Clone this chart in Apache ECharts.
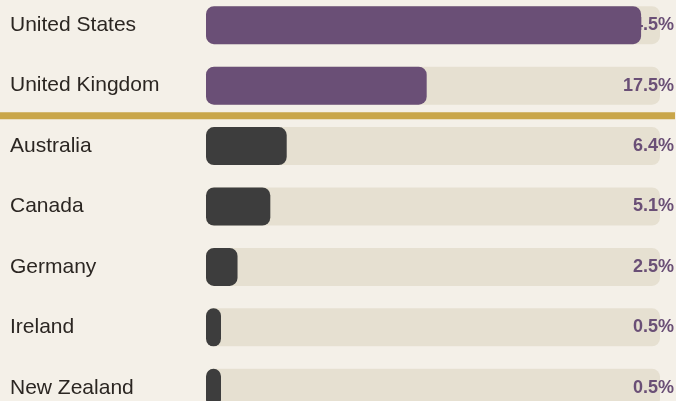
<!DOCTYPE html>
<html>
<head>
<meta charset="utf-8">
<style>
  html, body { margin: 0; padding: 0; background: #f4f0e8; }
  #chart { width: 676px; height: 401px; }
</style>
<script src="https://cdn.jsdelivr.net/npm/echarts@6/dist/echarts.min.js"></script>
</head>
<body>
<div id="chart"></div>
<script>
// share of total, per country
const countries = ['United States', 'United Kingdom', 'Australia', 'Canada', 'Germany', 'Ireland', 'New Zealand']
const shares = [34.5, 17.5, 6.4, 5.1, 2.5, 0.5, 0.5]
const highlighted = ['United States', 'United Kingdom']
const scaleMax = 36

const FONT = '"Liberation Sans", Arial, Helvetica, sans-serif'
const PURPLE = '#6a4f76'
const DARK = '#3d3d3d'

const chart = echarts.init(document.getElementById('chart'))

const option = {
  backgroundColor: '#f4f0e8',
  animation: false,
  grid: {
    left: 206,
    right: 16,
    top: -5,
    bottom: -17,
    outerBoundsMode: 'none'
  },
  xAxis: {
    type: 'value',
    min: 0,
    max: scaleMax,
    show: false
  },
  yAxis: {
    type: 'category',
    inverse: true,
    data: countries,
    axisLine: { show: false },
    axisTick: { show: false },
    axisLabel: {
      align: 'left',
      margin: 196,
      fontFamily: FONT,
      fontSize: 21,
      color: '#2b2622'
    }
  },
  series: [
    {
      // background track, carries the value label
      type: 'bar',
      barWidth: 38,
      z: 2,
      silent: true,
      itemStyle: { color: '#e6e0d1', borderRadius: 8 },
      label: {
        show: true,
        position: 'insideRight',
        distance: 0,
        offset: [14, 0],
        fontFamily: FONT,
        fontSize: 18,
        fontWeight: 'bold',
        color: PURPLE,
        formatter: (p) => shares[p.dataIndex].toFixed(1) + '%'
      },
      data: countries.map(() => scaleMax)
    },
    {
      type: 'bar',
      barWidth: 38,
      barGap: '-100%',
      barMinHeight: 15,
      z: 3,
      itemStyle: { borderRadius: 8 },
      data: shares.map((v, i) => ({
        value: v,
        itemStyle: { color: highlighted.includes(countries[i]) ? PURPLE : DARK }
      }))
    }
  ]
}

chart.setOption(option)

// gold divider between the highlighted group and the rest
const lastHi = chart.convertToPixel({ yAxisIndex: 0 }, highlighted[highlighted.length - 1])
const firstRest = chart.convertToPixel({ yAxisIndex: 0 }, countries[highlighted.length])
const midY = (lastHi + firstRest) / 2
chart.setOption({
  graphic: [{
    type: 'rect',
    shape: { x: 0, y: midY - 3.5, width: 675, height: 7 },
    style: { fill: '#c9a64a' },
    z: 10
  }]
})
</script>
</body>
</html>
